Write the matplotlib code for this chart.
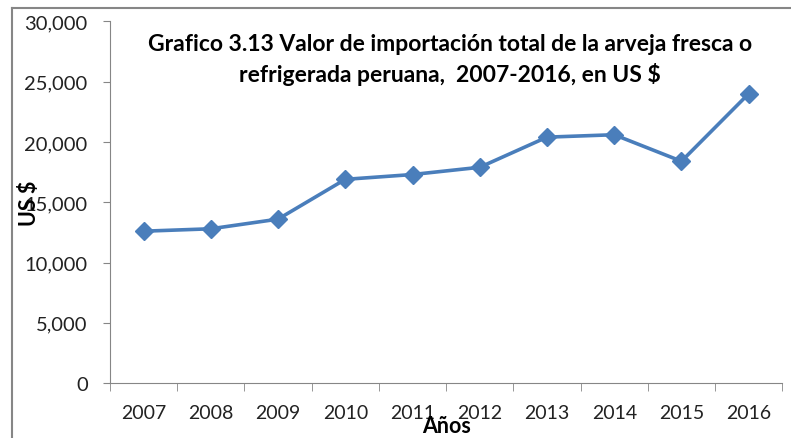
import matplotlib.pyplot as plt
from matplotlib.lines import Line2D

anios = ['2007', '2008', '2009', '2010', '2011', '2012', '2013', '2014', '2015', '2016']
valores = [12600, 12800, 13600, 16900, 17300, 17900, 20400, 20600, 18400, 24000]
yticks = [0, 5000, 10000, 15000, 20000, 25000, 30000]

plt.rcParams['font.family'] = ['Lato', 'DejaVu Sans']

fig = plt.figure(figsize=(7.91, 4.39), dpi=100)
ax = fig.add_axes([0.139, 0.125, 0.85, 0.824])

x = list(range(len(anios)))
ax.plot(x, valores, color='#4A7EBB', lw=2.6, marker='D', markersize=9.5)

ax.set_xlim(-0.5, len(anios) - 0.5)
ax.set_ylim(0, 30000)
ax.set_yticks(yticks)
ax.set_yticklabels([f'{v:,}' for v in yticks])
ax.set_xticks(x)
ax.set_xticklabels(anios)
ax.set_xticks([i - 0.5 for i in range(len(anios) + 1)], minor=True)
ax.tick_params(axis='x', which='major', length=0, pad=15, labelsize=14, colors='#222222')
ax.tick_params(axis='x', which='minor', length=6, color='#868686')
ax.tick_params(axis='y', length=5, color='#868686', labelsize=14.5, labelcolor='#222222', pad=11)

for s in ['top', 'right']:
    ax.spines[s].set_visible(False)
for s in ['left', 'bottom']:
    ax.spines[s].set_color('#868686')

fig.text(450 / 791, 1 - 34 / 439,
         'Grafico 3.13 Valor de importación total de la arveja fresca o\nrefrigerada peruana,  2007-2016, en US $',
         ha='center', va='top', fontsize=16.5, fontweight='bold', linespacing=1.4)
fig.text(29 / 791, 1 - 203 / 439, 'US $', rotation=90, ha='center', va='center',
         fontsize=15.5, fontweight='bold')
fig.text(447 / 791, 1 - 427 / 439, 'Años', ha='center', va='center',
         fontsize=15.5, fontweight='bold')

# marco exterior del gráfico (recortado)
fig.add_artist(Line2D([12 / 791, 12 / 791], [0, 1 - 9 / 439], transform=fig.transFigure,
                      color='#868686', lw=1.5))
fig.add_artist(Line2D([12 / 791, 1], [1 - 9 / 439, 1 - 9 / 439], transform=fig.transFigure,
                      color='#868686', lw=1.5))

fig.savefig('out.png', dpi=100)
